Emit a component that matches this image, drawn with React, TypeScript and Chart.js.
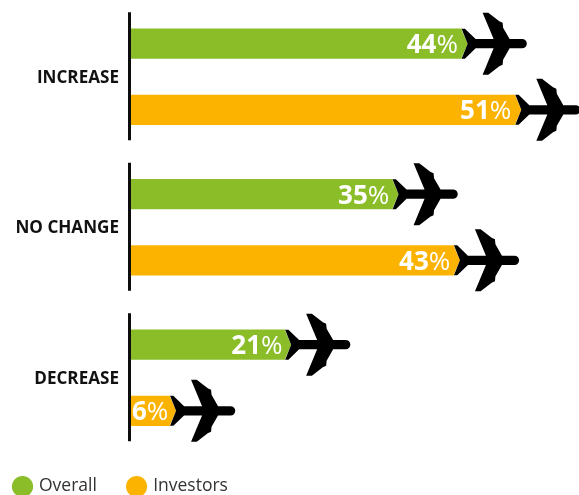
import { useEffect, useRef } from "react";
import { Chart, registerables } from "chart.js";

Chart.register(...registerables);

const categories = ["INCREASE", "NO CHANGE", "DECREASE"];
const overall = [44, 35, 21];
const investors = [51, 43, 6];
const GREEN = "#8abd28";
const ORANGE = "#fbb300";
const FONT = "'Open Sans', sans-serif";

function planePath(ctx: CanvasRenderingContext2D, x: number, y: number) {
  const upper: [number, number][] = [
    [0, 15], [3.3, 15], [14, 4.7], [32, 4.7], [21, 31], [26.7, 31],
    [37.7, 22.5], [41, 21], [41.5, 16], [48, 4.7], [60.5, 4.7],
  ];
  ctx.beginPath();
  ctx.moveTo(x + 6, y);
  for (let i = 0; i < upper.length; i++) ctx.lineTo(x + upper[i][0], y - upper[i][1]);
  ctx.arc(x + 60.5, y, 4.7, -Math.PI / 2, Math.PI / 2);
  for (let i = upper.length - 1; i >= 0; i--) ctx.lineTo(x + upper[i][0], y + upper[i][1]);
  ctx.closePath();
}

const planePlugin = {
  id: "planes",
  afterLayout(chart: any) {
    chart.legend.left = -17.25;
    chart.legend.top = 445.75;
  },
  afterDatasetsDraw(chart: any) {
    const ctx: CanvasRenderingContext2D = chart.ctx;
    const yScale = chart.scales.y;
    ctx.save();
    ctx.fillStyle = "#0d0d0d";
    categories.forEach((_, i) => {
      const c = yScale.getPixelForTick(i);
      ctx.fillRect(yScale.right - 3, c - 64.5, 3, 128);
    });
    chart.data.datasets.forEach((ds: any, di: number) => {
      const meta = chart.getDatasetMeta(di);
      meta.data.forEach((bar: any, i: number) => {
        const { x, y } = bar.getProps(["x", "y"], true);
        ctx.fillStyle = ds.backgroundColor;
        ctx.beginPath();
        ctx.moveTo(x - 0.5, y - 15);
        ctx.lineTo(x + 6, y);
        ctx.lineTo(x - 0.5, y + 15);
        ctx.closePath();
        ctx.fill();
        ctx.fillStyle = "#000";
        planePath(ctx, x, y);
        ctx.fill();
        const value = ds.data[i];
        const num = String(value);
        ctx.textBaseline = "alphabetic";
        ctx.textAlign = "left";
        ctx.font = `400 26px ${FONT}`;
        const pw = ctx.measureText("%").width;
        ctx.font = `700 26px ${FONT}`;
        const nw = ctx.measureText(num).width;
        const end = x - (1.5 + 0.05 * value);
        ctx.fillStyle = "#fff";
        ctx.fillText(num, end - pw - nw, y + 9.5);
        ctx.font = `400 26px ${FONT}`;
        ctx.fillText("%", end - pw, y + 9.5);
      });
    });
    ctx.restore();
  },
};

export default function App() {
  const ref = useRef<HTMLCanvasElement>(null);
  useEffect(() => {
    document.body.style.margin = "0";
    const chart = new Chart(ref.current!, {
      type: "bar",
      data: {
        labels: categories,
        datasets: [
          { label: "Overall", data: overall, backgroundColor: GREEN },
          { label: "Investors", data: investors, backgroundColor: ORANGE },
        ],
      },
      plugins: [planePlugin],
      options: {
        indexAxis: "y",
        responsive: false,
        animation: false,
        layout: { padding: { top: 1.5, bottom: -17.5, left: 0, right: 0 } },
        datasets: { bar: { categoryPercentage: 0.88, barPercentage: 30 / 66 } },
        scales: {
          x: { display: false, min: 0.91, max: 59.3 },
          y: {
            border: { display: false },
            grid: { display: false, drawTicks: false },
            ticks: {
              color: "#111",
              padding: 12,
              labelOffset: 1,
              font: { family: FONT, size: 17.1, weight: "bold" },
            },
            afterFit(scale: any) {
              scale.width = 131;
              scale.paddingTop = 0;
              scale.paddingBottom = 0;
            },
          },
        },
        plugins: {
          tooltip: { enabled: false },
          legend: {
            position: "bottom",
            align: "start",
            labels: {
              usePointStyle: true,
              pointStyle: "circle",
              boxWidth: 15.5,
              boxHeight: 15,
              padding: 32,
              color: "#333",
              font: { family: FONT, size: 17.5 },
            },
          },
        },
      },
    } as any);
    return () => chart.destroy();
  }, []);
  return <canvas ref={ref} width={579} height={495} style={{ display: "block" }} />;
}
